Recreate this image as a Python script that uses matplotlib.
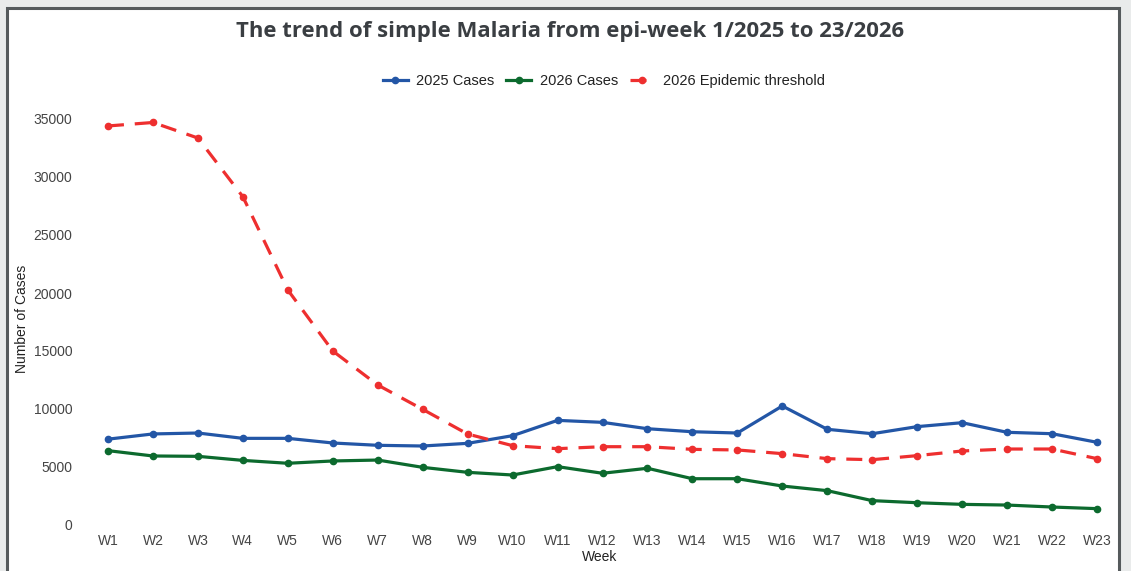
import matplotlib
matplotlib.use("Agg")
import matplotlib.pyplot as plt
from matplotlib.patches import Rectangle

weeks = [f"W{i}" for i in range(1, 24)]
cases_2025 = [7400, 7850, 7930, 7470, 7470, 7070, 6870, 6810, 7040, 7700,
              9020, 8850, 8300, 8040, 7930, 10260, 8250, 7870, 8480, 8820,
              7990, 7870, 7130]
cases_2026 = [6410, 5950, 5920, 5570, 5320, 5520, 5600, 4970, 4540, 4310,
              5030, 4460, 4890, 3990, 3990, 3360, 2960, 2100, 1920, 1780,
              1720, 1550, 1410]
threshold_2026 = [34400, 34700, 33360, 28300, 20260, 15000, 12070, 9970, 7840, 6840,
                  6580, 6750, 6750, 6520, 6470, 6150, 5720, 5630, 5980, 6380,
                  6550, 6550, 5720]
yticks = [0, 5000, 10000, 15000, 20000, 25000, 30000, 35000]

W, H = 1131, 571
fig = plt.figure(figsize=(W / 100, H / 100), dpi=100, facecolor="#e9ebeb")

# white panel with dark frame
fig.patches.append(Rectangle((7 / W, -0.05), (1119 - 7) / W, (H - 8) / H + 0.05,
                             transform=fig.transFigure, facecolor="white",
                             edgecolor="#555a5c", linewidth=2.2, zorder=-10))

L, R, T, B = 85, 1115, 100, 530
ax = fig.add_axes([L / W, (H - B) / H, (R - L) / W, (B - T) / H])
ax.set_facecolor("none")

x = list(range(len(weeks)))
blue, green, red = "#2356a6", "#0c6a2e", "#ee2f2f"
ax.plot(x, cases_2025, color=blue, lw=2.3, marker="o", ms=4.5, label="2025 Cases",
        solid_joinstyle="round", zorder=3)
ax.plot(x, cases_2026, color=green, lw=2.3, marker="o", ms=4.5, label="2026 Cases",
        solid_joinstyle="round", zorder=3)
ax.plot(x, threshold_2026, color=red, lw=2.3, marker="o", ms=4.5,
        linestyle=(0, (5, 3.4)), label="2026 Epidemic threshold", zorder=3)

ppx = (1097 - 108) / 22
ax.set_xlim(-(108 - L) / ppx, 22 + (R - 1097) / ppx)
ppy = 58 / 5000
ax.set_ylim(-(B - 525) / ppy, (525 - T) / ppy)

ax.set_xticks(x)
ax.set_xticklabels(weeks)
ax.set_yticks(yticks)
ax.set_yticklabels([str(v) for v in yticks])
for s in ax.spines.values():
    s.set_visible(False)
ax.tick_params(axis="both", length=0, labelsize=10, labelcolor="#444444")
ax.tick_params(axis="x", pad=3)
ax.tick_params(axis="y", pad=9)
for lab in ax.get_xticklabels() + ax.get_yticklabels():
    lab.set_fontfamily("Liberation Sans")

ax.set_xlabel("Week", fontsize=10, family="Liberation Sans", color="#222222", labelpad=1)
ax.set_ylabel("Number of Cases", fontsize=10, family="Liberation Sans", color="#222222")
ax.yaxis.set_label_coords((29 - L) / (R - L), 0.49)

fig.text(570 / W, 1 - 31 / H, "The trend of simple Malaria from epi-week 1/2025 to 23/2026",
         ha="center", va="center", fontsize=15.9, fontweight="bold",
         family="Open Sans", color="#3a3e42")

leg = fig.legend(loc="center", bbox_to_anchor=(604 / W, 1 - 81 / H), ncol=3,
                 frameon=False, prop={"family": "Liberation Sans", "size": 10.5},
                 handlelength=1.7, columnspacing=0.8, handletextpad=0.6)
for t in leg.get_texts():
    t.set_color("#222222")

fig.savefig("out.png", dpi=100, facecolor=fig.get_facecolor())
